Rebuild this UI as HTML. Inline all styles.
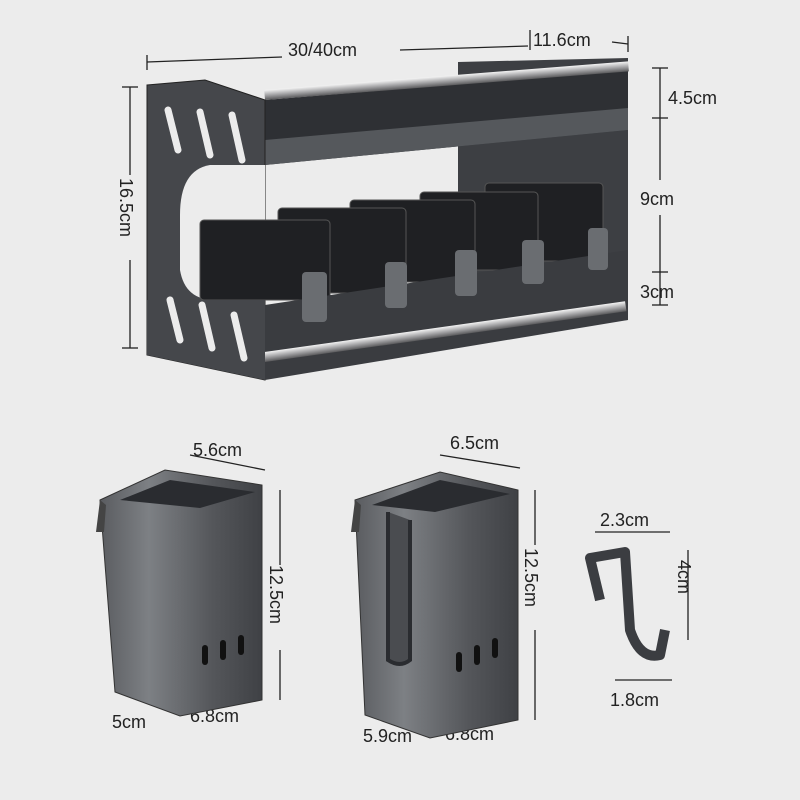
<!DOCTYPE html>
<html><head><meta charset="utf-8"><style>
html,body{margin:0;padding:0;background:#ececec;}
svg{display:block}
text{font-family:"Liberation Sans",sans-serif;font-size:18px;fill:#222;}
</style></head><body>
<svg width="800" height="800" viewBox="0 0 800 800" xmlns="http://www.w3.org/2000/svg">
<defs>
<linearGradient id="bar" x1="0" y1="0" x2="0" y2="1">
<stop offset="0" stop-color="#f4f4f4"/><stop offset="0.5" stop-color="#a8a8aa"/><stop offset="1" stop-color="#5a5a5c"/></linearGradient>
<linearGradient id="cup" x1="0" y1="0" x2="1" y2="0">
<stop offset="0" stop-color="#5a5c60"/><stop offset="0.3" stop-color="#7d8084"/><stop offset="0.7" stop-color="#54565a"/><stop offset="1" stop-color="#3f4145"/></linearGradient>
</defs>
<rect width="800" height="800" fill="#ececec"/>
<g stroke="#222" stroke-width="1.3" fill="none">
<line x1="147" y1="62" x2="282" y2="57"/><line x1="400" y1="50" x2="528" y2="46"/>
<line x1="612" y1="42" x2="628" y2="44"/><line x1="147" y1="55" x2="147" y2="70"/><line x1="530" y1="30" x2="530" y2="50"/><line x1="628" y1="36" x2="628" y2="52"/>
<line x1="130" y1="87" x2="130" y2="175"/><line x1="130" y1="260" x2="130" y2="348"/>
<line x1="122" y1="87" x2="138" y2="87"/><line x1="122" y1="348" x2="138" y2="348"/>
<line x1="660" y1="68" x2="660" y2="180"/><line x1="660" y1="215" x2="660" y2="305"/>
<line x1="652" y1="68" x2="668" y2="68"/><line x1="652" y1="118" x2="668" y2="118"/><line x1="652" y1="272" x2="668" y2="272"/><line x1="652" y1="305" x2="668" y2="305"/>
<line x1="190" y1="455" x2="265" y2="470"/><line x1="280" y1="490" x2="280" y2="565"/><line x1="280" y1="650" x2="280" y2="700"/>
<line x1="440" y1="455" x2="520" y2="468"/><line x1="535" y1="490" x2="535" y2="545"/><line x1="535" y1="630" x2="535" y2="720"/>
<line x1="595" y1="532" x2="670" y2="532"/><line x1="688" y1="550" x2="688" y2="640"/><line x1="615" y1="680" x2="672" y2="680"/>
</g>
<text x="288" y="56">30/40cm</text><text x="533" y="46">11.6cm</text>
<text x="668" y="104">4.5cm</text><text x="640" y="205">9cm</text><text x="640" y="298">3cm</text>
<text transform="translate(120,178) rotate(90)">16.5cm</text>
<text x="193" y="456">5.6cm</text><text x="450" y="449">6.5cm</text>
<text transform="translate(270,565) rotate(90)">12.5cm</text><text transform="translate(525,548) rotate(90)">12.5cm</text>
<text x="112" y="728">5cm</text><text x="190" y="722">6.8cm</text>
<text x="363" y="742">5.9cm</text><text x="445" y="740">6.8cm</text>
<text x="600" y="526">2.3cm</text><text transform="translate(678,560) rotate(90)">4cm</text><text x="610" y="706">1.8cm</text>
<!-- rack -->
<polygon points="458,62 628,58 628,320 458,330" fill="#3d3f43"/>
<polygon points="265,100 628,70 628,130 265,165" fill="#2e3034"/>
<polygon points="265,140 628,108 628,130 265,165" fill="#55585c"/>
<rect x="265" y="90" width="365" height="10" fill="url(#bar)" transform="rotate(-4.5 265 100)"/>
<polygon points="147,85 205,80 265,100 265,380 147,355" fill="#45474b" stroke="#222"/>
<path d="M210,165 Q180,170 180,215 L180,270 Q185,300 215,300 L265,300 L265,165 Z" fill="#ececec"/>
<g stroke="#ececec" stroke-width="7" stroke-linecap="round"><line x1="168" y1="110" x2="178" y2="150"/><line x1="200" y1="112" x2="210" y2="155"/><line x1="232" y1="115" x2="242" y2="160"/><line x1="170" y1="300" x2="180" y2="340"/><line x1="202" y1="305" x2="212" y2="348"/><line x1="234" y1="315" x2="244" y2="358"/></g>
<g fill="#1f2023" stroke="#555" stroke-width="1">
<rect x="485" y="183" width="118" height="78" rx="4"/><rect x="420" y="192" width="118" height="78" rx="4"/>
<rect x="350" y="200" width="125" height="82" rx="4"/><rect x="278" y="208" width="128" height="85" rx="4"/><rect x="200" y="220" width="130" height="80" rx="4"/>
</g>
<polygon points="265,305 628,250 628,320 265,380" fill="#3a3c40"/>
<g fill="#6a6d71"><rect x="302" y="272" width="25" height="50" rx="4"/><rect x="385" y="262" width="22" height="46" rx="4"/><rect x="455" y="250" width="22" height="46" rx="4"/><rect x="522" y="240" width="22" height="44" rx="4"/><rect x="588" y="228" width="20" height="42" rx="4"/></g>
<rect x="265" y="352" width="365" height="10" fill="url(#bar)" transform="rotate(-8 265 362)"/>
<polygon points="147,300 265,300 265,380 147,355" fill="#45474b"/>
<g stroke="#ececec" stroke-width="7" stroke-linecap="round"><line x1="170" y1="300" x2="180" y2="340"/><line x1="202" y1="305" x2="212" y2="348"/><line x1="234" y1="315" x2="244" y2="358"/></g>
<!-- cup 1 -->
<polygon points="100,500 165,470 262,485 262,700 180,716 115,692" fill="url(#cup)" stroke="#333"/>
<polygon points="120,500 170,480 255,492 200,508" fill="#2a2c30"/>
<path d="M100,500 L96,532 L104,532 L106,505" fill="#444"/>
<g fill="#111"><rect x="202" y="645" width="6" height="20" rx="3"/><rect x="220" y="640" width="6" height="20" rx="3"/><rect x="238" y="635" width="6" height="20" rx="3"/></g>
<!-- cup 2 -->
<polygon points="355,500 440,472 518,490 518,720 430,738 365,715" fill="url(#cup)" stroke="#333"/>
<polygon points="372,505 440,480 510,494 435,512" fill="#2a2c30"/>
<path d="M388,512 L388,660 Q400,668 410,660 L410,520" fill="#4a4c50" stroke="#2a2c30" stroke-width="4"/>
<path d="M355,500 L351,532 L359,532 L361,505" fill="#444"/>
<g fill="#111"><rect x="456" y="652" width="6" height="20" rx="3"/><rect x="474" y="645" width="6" height="20" rx="3"/><rect x="492" y="638" width="6" height="20" rx="3"/></g>
<!-- hook -->
<path d="M600,600 L590,558 L625,552 L630,630 Q640,660 660,655 L665,630" fill="none" stroke="#3b3d41" stroke-width="10" stroke-linejoin="round"/>
</svg>
</body></html>
